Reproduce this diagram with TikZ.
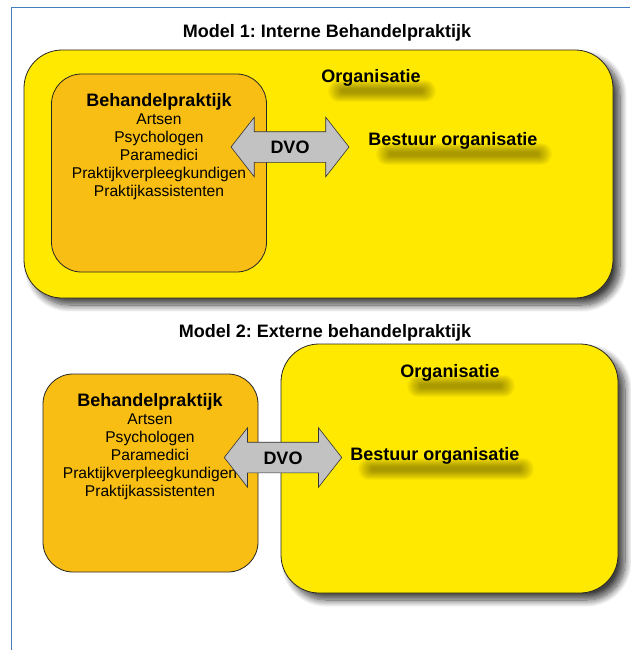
\documentclass[tikz,border=0pt]{standalone}
\usepackage{fontspec}
\setmainfont{Liberation Sans}
\frenchspacing
\usetikzlibrary{shapes.arrows,shadows.blur}
\definecolor{orgyellow}{RGB}{255,233,0}
\definecolor{prakorange}{RGB}{249,190,20}
\definecolor{dvogray}{RGB}{194,194,194}
\definecolor{frameblue}{RGB}{66,126,190}
\newcommand{\kop}{\fontsize{18}{21}\selectfont\bfseries}
\newcommand{\lijstfont}{\fontsize{15.6}{18}\selectfont}
% blurred smudge under a text, #1 = text centre, #2 = half width
\newcommand{\tekstschaduw}[2]{%
  \begin{scope}[shift={(#1)}]
    \foreach \k in {0,...,11}
      \fill[black, opacity=0.03, rounded corners={(10.5-0.8*\k)*1pt}]
        ({11-#2-8+\k*1.2},{13-11+0.8*\k}) rectangle ({11+#2+8-\k*1.2},{13+11-0.8*\k});
  \end{scope}}
\tikzset{
    organisatie/.style={draw=black!85, line width=0.8pt, fill=orgyellow, rounded corners=38pt,
        blur shadow={shadow xshift=7pt, shadow yshift=-7pt, shadow blur radius=7pt,
        shadow blur steps=12, shadow opacity=75}},
    praktijk/.style={draw=black!85, line width=0.8pt, fill=prakorange, rounded corners=30pt},
    dvo/.style={double arrow, draw=black!80, line width=0.6pt, fill=dvogray,
        double arrow tip angle=104, double arrow head extend=14.5pt,
        inner xsep=6pt, inner ysep=8.5pt, text height=13pt, text depth=0pt, font=\kop},
    kopje/.style={font=\kop, inner sep=0pt},
    lijst/.style={align=center, font=\lijstfont, inner sep=0pt, anchor=north},
}

\begin{document}
\begin{tikzpicture}[x=1pt,y=-1pt]
    \useasboundingbox (0,0) rectangle (630,650);
    \draw[frameblue, line width=1pt] (11.5,650) |- (630,7.5);

    % model 1
    \node[kopje] (titel1) at (327,33) {Model 1: Interne Behandelpraktijk};
    \node[organisatie, minimum width=589pt, minimum height=248pt] (org1) at (318.5,174) {};
    \node[praktijk, minimum width=215pt, minimum height=198pt] (prak1) at (159,173) {};
    \coordinate (organ1) at (371,78);
    \coordinate (bestuur1) at (453,141);
    \tekstschaduw{organ1}{46}
    \tekstschaduw{bestuur1}{80}
    \node[kopje] (organtekst1) at (organ1) {Organisatie};
    \node[kopje] (bestuurtekst1) at (bestuur1) {Bestuur organisatie};
    \node[lijst] (praktekst1) at (159,93.5) {{\kop Behandelpraktijk}\\Artsen\\Psychologen\\Paramedici\\Praktijkverpleegkundigen\\Praktijkassistenten};
    \node[dvo, minimum height=118pt] (dvo1) at (290,147) {DVO};

    % model 2
    \node[kopje] (titel2) at (325,333) {Model 2: Externe behandelpraktijk};
    \node[organisatie, minimum width=337pt, minimum height=249pt] (org2) at (449.5,468.5) {};
    \node[praktijk, minimum width=215pt, minimum height=198pt] (prak2) at (150.5,473) {};
    \coordinate (organ2) at (450,373);
    \coordinate (bestuur2) at (435,456);
    \tekstschaduw{organ2}{46}
    \tekstschaduw{bestuur2}{80}
    \node[kopje] (organtekst2) at (organ2) {Organisatie};
    \node[kopje] (bestuurtekst2) at (bestuur2) {Bestuur organisatie};
    \node[lijst] (praktekst2) at (150,393.5) {{\kop Behandelpraktijk}\\Artsen\\Psychologen\\Paramedici\\Praktijkverpleegkundigen\\Praktijkassistenten};
    \node[dvo, minimum height=117.5pt] (dvo2) at (283,457.5) {DVO};
\end{tikzpicture}
\end{document}
